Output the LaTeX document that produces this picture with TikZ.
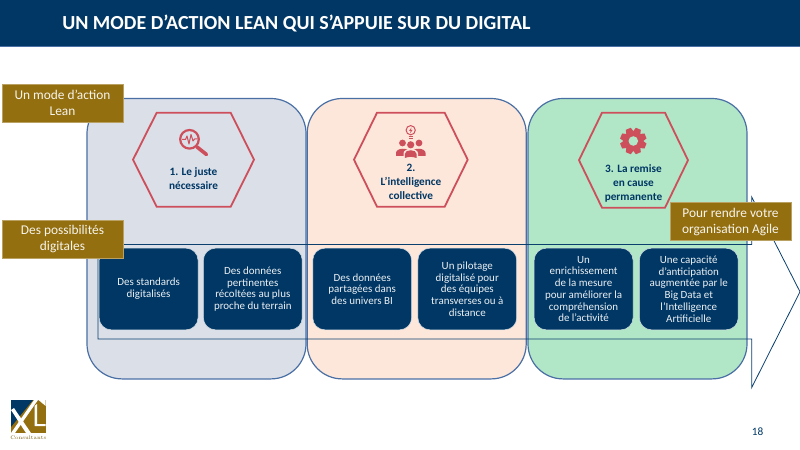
\documentclass[tikz,border=0pt]{standalone}
\usepackage{fontspec}
\setmainfont{Carlito}
\usetikzlibrary{calc}

\definecolor{navy}{HTML}{003764}
\definecolor{gold}{HTML}{946F10}
\definecolor{goldline}{HTML}{B9A163}
\definecolor{redicon}{HTML}{CE4F5C}
\definecolor{edgeblue}{HTML}{4A6FA5}
\definecolor{panelgrey}{HTML}{DADFE8}
\definecolor{panelpeach}{HTML}{FDE6DA}
\definecolor{panelgreen}{HTML}{B1E6C7}

\tikzset{
    panel/.style={draw=edgeblue, line width=0.3mm, rounded corners=8.75mm, minimum width=54.75mm, minimum height=70.1mm, inner sep=0pt},
    bluebox/.style={draw=white!85!navy, fill=navy, text=white!92!navy, line width=0.12mm, rounded corners=3mm, minimum width=24.7mm, minimum height=20.4mm, inner sep=0pt, align=center, font=\fontsize{7.8}{8.35}\selectfont},
    goldbox/.style={draw=goldline, fill=gold, text=white!92!gold, line width=0.12mm, minimum width=30.25mm, minimum height=9.5mm, inner sep=0pt, align=center, font=\fontsize{9.5}{11.4}\selectfont},
    hexa/.style={draw=redicon, line width=0.45mm, line join=miter},
    hexalabel/.style={text=navy, align=center, inner sep=0pt, font=\bfseries\fontsize{8}{10}\selectfont},
    icon/.style={fill=redicon, draw=none}
}

\begin{document}
\begin{tikzpicture}[x=0.25mm, y=-0.25mm]
    \useasboundingbox (0,0) rectangle (800,450);

    % Bandeau
    \fill[navy] (0,0) rectangle (800,46);
    \draw[edgeblue, line width=0.15mm] (0,46) -- (800,46);
    \node[anchor=west, text=white, inner sep=0pt, font=\bfseries\fontsize{14.2}{16}\selectfont] (title) at (62,23) {UN MODE D’ACTION LEAN QUI S’APPUIE SUR DU DIGITAL};

    % Colonnes
    \node[panel, fill=panelgrey] (panelA) at (196.5,238.7) {};
    \node[panel, fill=panelpeach] (panelB) at (416.7,238.7) {};
    \node[panel, fill=panelgreen] (panelC) at (637.5,238.7) {};

    % Hexagones
    \draw[hexa] (133,159.7) -- (156.7,112.7) -- (230.7,112.7) -- (254,159.7) -- (230.7,206.7) -- (156.7,206.7) -- cycle;
    \draw[hexa] (354,159.7) -- (377,112.7) -- (444.7,112.7) -- (467.7,159.7) -- (444.7,206.7) -- (377,206.7) -- cycle;
    \draw[hexa] (579,160.2) -- (602,112.7) -- (665,112.7) -- (688,160.2) -- (665,207.7) -- (602,207.7) -- cycle;
    \node[hexalabel] (labelA) at (193.5,179) {1. Le juste\\nécessaire};
    \node[hexalabel] (labelB) at (411,182) {2.\\L’intelligence\\collective};
    \node[hexalabel] (labelC) at (633.5,183) {3. La remise\\en cause\\permanente};

    % Loupe
    \draw[redicon, line width=0.55mm] (189.5,139.3) circle (9.3);
    \draw[redicon, line width=0.9mm, line cap=round] (197,147) -- (206.5,154.5);
    \draw[redicon, line width=0.25mm, line join=round] (182,139.5) -- (185.5,139.5) -- (187,136) -- (189,144) -- (191,134.5) -- (193,141) -- (194.5,139) -- (197.5,139);

    % Ampoule et personnes
    \draw[redicon, line width=0.25mm] (410.7,130.2) circle (4.6);
    \draw[redicon, line width=0.25mm] (408.5,136.5) -- (413,136.5) (409,138.5) -- (412.5,138.5);
    \fill[icon] (411.5,127.5) -- (409,131) -- (410.7,131) -- (410,133.5) -- (412.5,130) -- (410.8,130) -- cycle;
    \fill[icon] (402.5,143) circle (3.4);
    \fill[icon] (419,143) circle (3.4);
    \fill[icon] (396,156) -- (396,153) .. controls (396,147.5) and (409,147.5) .. (409,152) -- (405,156) -- cycle;
    \fill[icon] (425.5,156) -- (425.5,153) .. controls (425.5,147.5) and (412.5,147.5) .. (412.5,152) -- (416.5,156) -- cycle;
    \fill[icon] (410.7,144.8) circle (3.6);
    \fill[panelpeach] (403.5,159) -- (403.5,153.5) .. controls (403.5,147.5) and (418,147.5) .. (418,153.5) -- (418,159) -- cycle;
    \fill[icon] (404.8,158) -- (404.8,154) .. controls (404.8,149) and (416.6,149) .. (416.6,154) -- (416.6,158) .. controls (412,156.5) and (409,156.5) .. (404.8,158) -- cycle;

    % Engrenage
    \foreach \a in {0,45,...,315}
        \fill[icon, rotate around={\a+22.5:(633.3,141)}] (630.6,127.8) -- (636,127.8) -- (637.4,133) -- (629.2,133) -- cycle;
    \fill[icon] (633.3,141) circle (9.8);
    \fill[panelgreen] (633.3,141) circle (4.8);

    % Fleche
    \draw[navy!85!edgeblue, line width=0.2mm, line join=miter] (98,244.5) -- (751.7,244.5) -- (751.7,197) -- (800,291.8) -- (751.7,387.6) -- (751.7,339) -- (98,339) -- cycle;

    % Cartes digitales
    \node[bluebox] (cardA) at (148.6,289) {Des standards\\digitalisés};
    \node[bluebox] (cardB) at (252.8,289) {Des données\\pertinentes\\récoltées au plus\\proche du terrain};
    \node[bluebox] (cardC) at (362.2,289) {Des données\\partagées dans\\des univers BI};
    \node[bluebox] (cardD) at (467.3,289) {Un pilotage\\digitalisé pour\\des équipes\\transverses ou à\\distance};
    \node[bluebox] (cardE) at (583.6,289) {Un\\enrichissement\\de la mesure\\pour améliorer la\\compréhension\\de l’activité};
    \node[bluebox] (cardF) at (688.8,289) {Une capacité\\d’anticipation\\augmentée par le\\Big Data et\\l’Intelligence\\Artificielle};

    % Etiquettes
    \node[goldbox] (tagLean) at (62.5,103) {Un mode d’action\\Lean};
    \node[goldbox] (tagDigital) at (62.5,239.3) {Des possibilités\\digitales};
    \node[goldbox] (tagAgile) at (730.5,221.7) {Pour rendre votre\\organisation Agile};

    % Logo
    \fill[gold] (11,400) rectangle (45.7,433);
    \fill[navy] (11,400) -- (33,400) -- (11,427) -- cycle;
    \fill[white] (34,400) -- (38,400) -- (15,433) -- (11,433) -- cycle;
    \fill[white] (11,410) -- (14,408) -- (31,433) -- (26,433) -- cycle;
    \fill[white] (38,400) -- (45.7,400) -- (45.7,406) -- (38.5,400) -- cycle;
    \fill[white] (34.5,406) -- (37,404) -- (37,424) -- (45.7,424) -- (45.7,426) -- (34.5,426) -- cycle;
    \node[text=gold!80!black, inner sep=0pt, font=\fontfamily{lmr}\fontsize{3.6}{4}\selectfont] (logotext) at (28.3,438) {Consultants};

    % Page
    \node[text=navy, inner sep=0pt, font=\fontsize{8}{9}\selectfont] (pagenum) at (757.5,432) {18};
\end{tikzpicture}
\end{document}
